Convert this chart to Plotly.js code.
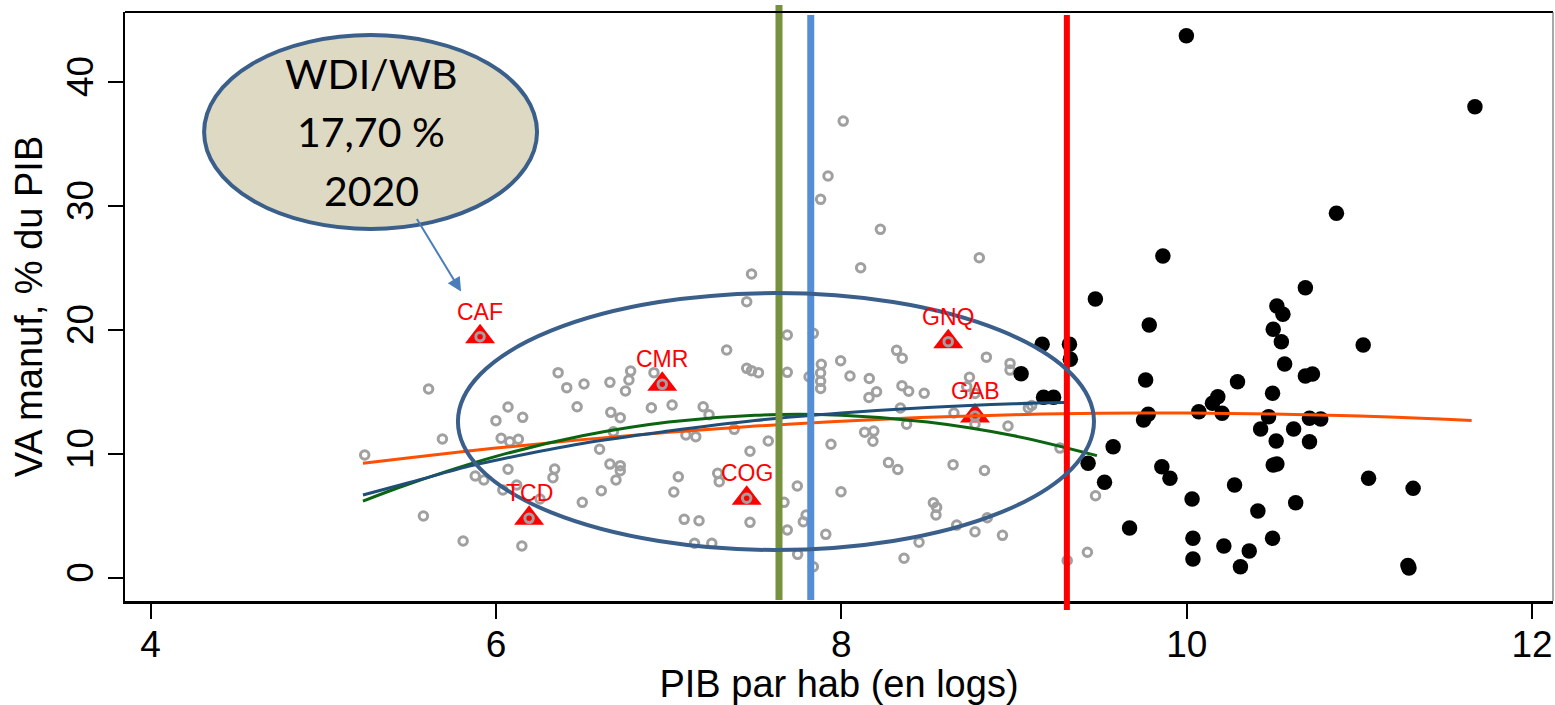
<!DOCTYPE html>
<html><head><meta charset="utf-8">
<script src="https://cdn.plot.ly/plotly-3.0.1.min.js"></script>
<style>html,body{margin:0;padding:0;background:#fff;}#chart{width:1555px;height:705px;}</style>
</head><body><div id="chart"></div>
<script>
// ---- data ----
const grayX = [5.24,5.61,5.69,5.58,5.81,6.15,6.07,6.00,6.155,6.03,6.08,6.13,5.88,5.93,6.07,6.04,6.12,6.255,6.34,6.33,6.36,6.41,6.51,6.47,6.66,6.75,6.77,6.78,6.915,6.665,6.72,6.90,7.02,6.68,6.60,6.66,6.72,6.72,6.695,6.61,6.50,7.056,7.03,7.09,7.176,7.15,7.25,7.336,7.20,7.234,7.10,7.157,7.38,7.284,7.293,
 7.48,7.452,7.687,7.838,7.452,7.48,7.52,7.687,7.884,7.88,7.88,7.88,7.813,8.011,7.923,7.88,8.226,8.112,8.799,7.996,8.05,8.162,8.204,8.16,8.32,8.353,8.351,8.39,8.48,8.84,8.977,8.977,8.742,8.726,8.774,8.342,8.378,8.135,8.188,8.183,8.652,8.774,8.965,9.083,9.102,9.266,9.472,9.425,9.308,8.273,8.327,8.647,8.829,7.998,7.745,7.668,7.687,7.78,7.796,7.91,7.747,7.838,7.471,7.577,7.471,7.94,8.533,8.552,8.548,8.668,8.845,8.774,8.933,8.45,8.363];
const grayY = [9.92,15.24,11.21,5.0,2.98,2.58,13.79,12.69,12.96,11.27,10.99,11.19,8.23,7.90,8.77,7.10,7.50,6.37,8.79,8.09,16.56,15.35,15.65,13.81,15.78,15.08,15.97,16.69,16.56,13.36,12.93,13.73,13.95,11.80,10.38,9.19,9.06,8.65,7.90,7.04,6.10,8.17,6.94,4.73,4.62,2.80,2.80,18.39,13.81,13.17,11.53,11.40,11.99,8.44,7.77,
 24.52,22.28,19.60,19.73,16.91,16.72,16.56,16.59,17.23,16.53,15.86,15.28,16.23,36.85,32.42,30.54,28.12,25.02,25.83,17.52,16.29,16.09,15.02,14.56,18.36,17.72,15.51,15.06,14.90,17.81,17.31,16.77,16.19,15.43,14.88,13.71,12.40,11.76,11.85,11.03,13.31,12.40,12.26,13.71,13.91,10.48,6.63,2.08,1.41,9.31,8.75,9.14,8.67,6.96,7.42,6.10,3.87,4.54,5.08,3.52,1.91,0.91,4.49,11.05,10.22,10.79,6.07,5.70,5.08,4.27,4.86,3.73,3.44,2.88,1.59];

const blackX = [9.041,9.163,9.321,9.326,9.171,9.229,9.471,9.429,9.524,9.574,9.669,9.783,9.762,9.777,9.75,9.856,9.903,9.862,9.998,10.031,10.036,10.036,10.07,10.18,10.149,10.205,10.215,10.277,10.294,10.311,10.362,10.412,10.428,10.474,10.497,10.501,10.522,10.557,10.548,10.567,10.518,10.501,10.522,10.497,10.619,10.631,10.687,10.687,10.728,10.711,10.776,10.711,10.867,11.022,11.053,11.311,11.281,11.287,11.669];
const blackY = [16.48,18.85,18.85,17.64,14.58,14.58,22.50,9.25,7.72,10.59,4.03,20.40,15.97,13.20,12.74,8.98,8.04,25.97,43.73,6.37,3.20,1.53,13.41,14.62,14.09,13.28,2.58,7.50,15.83,0.91,2.18,5.40,12.02,13.01,14.90,20.06,21.94,21.27,19.06,17.26,11.05,9.11,9.19,3.20,12.02,6.07,23.41,16.29,16.45,12.88,12.82,10.99,29.41,18.79,8.04,7.23,1.01,0.81,38.01];

const focusCodes = ['CAF','CMR','TCD','COG','GNQ','GAB'];
const focusX = [5.908,6.963,6.192,7.452,8.619,8.774];
const focusY = [19.46,15.62,4.81,6.43,19.06,13.06];

const orangeX = [5.23,5.5,6.0,6.5,7.0,7.5,8.0,8.5,9.0,9.5,10.0,10.5,11.0,11.5,11.65];
const orangeY = [9.25,9.70,10.48,11.16,11.76,12.25,12.65,12.96,13.17,13.29,13.31,13.23,13.06,12.80,12.70];
const greenX = [5.23,5.5,6.0,6.5,7.0,7.5,8.0,8.5,9.0,9.48];
const greenY = [6.2,7.6,9.81,11.47,12.58,13.13,13.13,12.58,11.47,9.87];
const navyX = [5.23,5.5,5.84,6.0,6.5,7.0,7.5,8.0,8.5,9.0,9.29];
const navyY = [6.7,7.7,9.0,9.5,10.85,11.85,12.7,13.3,13.75,14.05,14.15];

const thresholds = [7.639, 7.823, 9.306];
const xTicks = [4,6,8,10,12];
const yTicks = [0,10,20,30,40];
const bubbleLines = ['WDI/WB','17,70 %','2020'];

// ---- styles ----
const ARIAL = 'Liberation Sans, Arial, sans-serif';
const thrStyle = [
  {color:'#76923C', width:7, y0:0.0017, y1:1.012},
  {color:'#558ED5', width:7, y0:0.0017, y1:0.995},
  {color:'#FF0000', width:6, y0:-0.0153, y1:0.995}
];

const traces = [
  {x: focusX, y: focusY, type:'scatter', mode:'markers', hoverinfo:'skip',
   marker:{symbol:'triangle-up', size:26, color:'#FF0000', line:{width:0}}},
  {x: grayX.concat(focusX), y: grayY.concat(focusY), type:'scatter', mode:'markers',
   marker:{symbol:'circle-open', size:8.5, color:'#A0A0A0', line:{width:3, color:'#A0A0A0'}}},
  {x: blackX, y: blackY, type:'scatter', mode:'markers',
   marker:{symbol:'circle', size:15.5, color:'#000000', line:{width:0}}},
  {x: orangeX, y: orangeY, type:'scatter', mode:'lines', line:{color:'#FF4F00', width:3, shape:'spline'}},
  {x: greenX, y: greenY, type:'scatter', mode:'lines', line:{color:'#0B6410', width:3, shape:'spline'}},
  {x: navyX, y: navyY, type:'scatter', mode:'lines', line:{color:'#1F4E79', width:3, shape:'spline'}}
];

const shapes = thresholds.map((t,i)=>({type:'line', xref:'x', yref:'paper', x0:t, x1:t,
  y0:thrStyle[i].y0, y1:thrStyle[i].y1, line:{color:thrStyle[i].color, width:thrStyle[i].width}}));
shapes.push({type:'circle', xref:'x', yref:'y', x0:5.78, x1:9.463, y0:2.26, y1:22.98,
  line:{color:'#3A5F8B', width:4}, fillcolor:'rgba(0,0,0,0)'});
shapes.push({type:'circle', xref:'x', yref:'y', x0:4.31, x1:6.238, y0:28.15, y1:43.79,
  line:{color:'#3A5F8B', width:4}, fillcolor:'#DDD9C3'});
shapes.push({type:'line', xref:'paper', yref:'paper', x0:0, x1:1, y0:1, y1:1, line:{color:'#000', width:2.2}});
shapes.push({type:'line', xref:'paper', yref:'paper', x0:1, x1:1, y0:0, y1:1, line:{color:'#555', width:1}});

const annotations = [];
const bubbleY = [40.65, 35.98, 31.25];
bubbleLines.forEach((t,i)=>annotations.push({x:5.277, y:bubbleY[i], xref:'x', yref:'y', text:t,
  showarrow:false, font:{family:'Lato, sans-serif', size:41, color:'#000'}}));
annotations.push({x:5.798, y:23.1, ax:5.537, ay:29.07, xref:'x', yref:'y', axref:'x', ayref:'y',
  text:'', showarrow:true, arrowhead:2, arrowsize:1.4, arrowwidth:2, arrowcolor:'#4A7EBB'});
focusCodes.forEach((c,i)=>annotations.push({x:focusX[i], y:focusY[i], xref:'x', yref:'y', text:c,
  showarrow:false, yshift:25, font:{family:ARIAL, size:23, color:'#FF0000'}}));

const layout = {
  width:1555, height:705,
  margin:{l:125, r:2, t:12, b:104},
  paper_bgcolor:'#fff', plot_bgcolor:'#fff',
  showlegend:false,
  font:{family:ARIAL, color:'#000'},
  xaxis:{range:[3.852,12.121], tickvals:xTicks, ticktext:xTicks.map(String), ticks:'outside', ticklen:15, tickwidth:2,
    tickcolor:'#000', showline:true, linewidth:2.5, linecolor:'#000', showgrid:false, zeroline:false,
    ticklabelstandoff:-6,
    tickfont:{family:ARIAL, size:37, color:'#000'},
    title:{text:'PIB par hab (en logs)', font:{family:ARIAL, size:38, color:'#000'}, standoff:6}},
  yaxis:{range:[-1.855,45.65], tickvals:yTicks, ticktext:yTicks.map(String), ticks:'outside', ticklen:15, tickwidth:2,
    tickcolor:'#000', showline:true, linewidth:2.5, linecolor:'#000', showgrid:false, zeroline:false,
    tickangle:-90, tickfont:{family:ARIAL, size:37, color:'#000'},
    title:{text:'VA manuf, % du PIB', font:{family:ARIAL, size:38, color:'#000'}, standoff:6}},
  shapes: shapes,
  annotations: annotations
};

Plotly.newPlot('chart', traces, layout, {displayModeBar:false, staticPlot:true});
</script>
</body></html>
